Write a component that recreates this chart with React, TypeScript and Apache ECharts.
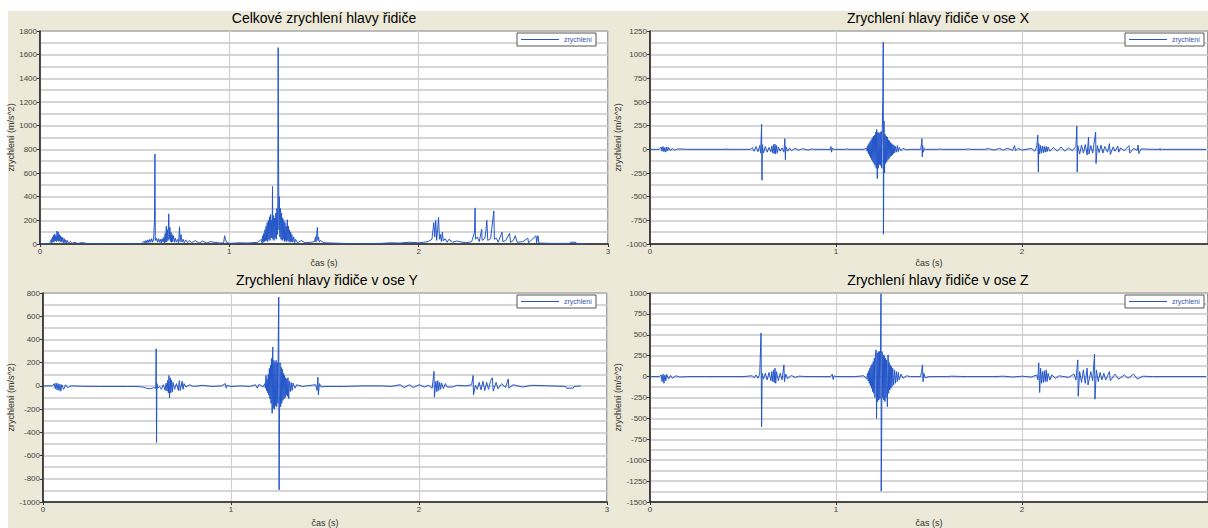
import React, { useEffect, useRef } from "react";
import * as echarts from "echarts";

// ---- Data (time in s, acceleration in m/s^2) ----
const timeTicksLeft = [0, 1, 2, 3];
const timeTicksRight = [0, 1, 2];
const timeTickLabels = ["0", "1", "2", "3"];

const titles = [
  "Celkové zrychlení hlavy řidiče",
  "Zrychlení hlavy řidiče v ose X",
  "Zrychlení hlavy řidiče v ose Y",
  "Zrychlení hlavy řidiče v ose Z",
];
const seriesName = "zrychlení";
const yAxisName = "zrychlení (m/s^2)";
const xAxisName = "čas (s)";

const yMins = [0, -1000, -1000, -1500];
const yMaxs = [1800, 1250, 800, 1000];
const yIntervals = [200, 250, 200, 250];

const accTotal: [number, number][] = [
  [0, 2], [0.05, 3], [0.06, 40], [0.063, 10], [0.066, 60], [0.069, 15], [0.072, 75], [0.075, 20],
  [0.078, 85], [0.081, 25], [0.084, 70], [0.087, 20], [0.09, 110], [0.093, 30], [0.096, 100], [0.099, 20],
  [0.102, 80], [0.105, 25], [0.108, 70], [0.111, 15], [0.114, 60], [0.117, 20], [0.12, 55], [0.124, 10],
  [0.128, 45], [0.132, 10], [0.136, 35], [0.14, 8], [0.145, 30], [0.15, 8], [0.16, 20], [0.17, 5],
  [0.18, 15], [0.2, 5], [0.22, 12], [0.25, 4], [0.3, 3], [0.4, 4], [0.5, 3], [0.54, 5],
  [0.55, 25], [0.555, 8], [0.56, 30], [0.565, 10], [0.57, 35], [0.575, 12], [0.58, 40], [0.585, 15],
  [0.59, 45], [0.595, 15], [0.6, 40], [0.605, 210], [0.607, 760], [0.609, 30], [0.615, 50], [0.62, 15],
  [0.625, 45], [0.63, 15], [0.635, 40], [0.64, 10], [0.645, 45], [0.65, 15], [0.655, 60], [0.658, 10],
  [0.661, 90], [0.664, 15], [0.667, 150], [0.67, 20], [0.673, 120], [0.676, 30], [0.68, 255], [0.683, 40],
  [0.686, 140], [0.689, 20], [0.692, 100], [0.695, 15], [0.698, 80], [0.701, 20], [0.705, 70], [0.71, 15],
  [0.715, 50], [0.72, 15], [0.727, 40], [0.732, 10], [0.737, 145], [0.74, 20], [0.745, 80], [0.75, 15],
  [0.756, 40], [0.762, 10], [0.77, 35], [0.78, 10], [0.79, 30], [0.8, 10], [0.82, 28], [0.84, 8],
  [0.86, 25], [0.88, 8], [0.9, 20], [0.95, 8], [0.97, 10], [0.975, 70], [0.98, 40], [0.985, 15],
  [1.0, 5], [1.05, 10], [1.1, 8], [1.15, 15], [1.17, 40], [1.173, 8], [1.176, 70], [1.179, 15],
  [1.182, 90], [1.185, 20], [1.188, 120], [1.191, 25], [1.194, 150], [1.197, 30], [1.2, 180], [1.203, 20],
  [1.206, 200], [1.209, 40], [1.212, 230], [1.215, 30], [1.218, 250], [1.221, 50], [1.224, 200], [1.226, 60],
  [1.228, 486], [1.23, 40], [1.233, 240], [1.236, 30], [1.239, 220], [1.242, 50], [1.245, 260], [1.248, 40],
  [1.251, 300], [1.254, 80], [1.256, 350], [1.258, 1660], [1.26, 710], [1.262, 120], [1.264, 400], [1.267, 60],
  [1.27, 300], [1.273, 40], [1.276, 260], [1.279, 30], [1.282, 220], [1.285, 40], [1.288, 200], [1.291, 20],
  [1.294, 180], [1.297, 30], [1.3, 150], [1.303, 20], [1.306, 205], [1.309, 30], [1.312, 150], [1.315, 20],
  [1.318, 120], [1.321, 15], [1.324, 100], [1.327, 20], [1.33, 80], [1.335, 15], [1.34, 60], [1.345, 10],
  [1.35, 40], [1.36, 10], [1.38, 30], [1.4, 10], [1.43, 15], [1.45, 20], [1.455, 60], [1.458, 15],
  [1.462, 90], [1.465, 140], [1.468, 30], [1.471, 60], [1.475, 15], [1.48, 30], [1.5, 10], [1.55, 8],
  [1.6, 5], [1.7, 3], [1.8, 5], [1.85, 10], [1.9, 8], [1.95, 15], [2.0, 10], [2.05, 20],
  [2.07, 40], [2.08, 180], [2.085, 60], [2.09, 200], [2.095, 30], [2.1, 120], [2.105, 225], [2.11, 40],
  [2.115, 80], [2.12, 20], [2.125, 100], [2.13, 25], [2.14, 45], [2.15, 15], [2.16, 40], [2.18, 15],
  [2.2, 25], [2.25, 10], [2.28, 20], [2.295, 100], [2.298, 305], [2.3, 40], [2.31, 60], [2.32, 20],
  [2.333, 125], [2.335, 30], [2.35, 50], [2.355, 110], [2.36, 200], [2.365, 30], [2.38, 45], [2.397, 280],
  [2.4, 40], [2.41, 50], [2.42, 15], [2.44, 100], [2.445, 20], [2.46, 30], [2.48, 90], [2.485, 15],
  [2.5, 30], [2.51, 70], [2.52, 15], [2.55, 20], [2.577, 50], [2.58, 10], [2.62, 70], [2.623, 10],
  [2.63, 70], [2.635, 8], [2.7, 5], [2.8, 5], [2.801, 15], [2.83, 15], [2.831, 5], [2.88, 3],
];

const accX: [number, number][] = [
  [0, 0], [0.05, 0], [0.06, 25], [0.065, -20], [0.07, 30], [0.075, -25], [0.08, 20], [0.085, -30],
  [0.09, 25], [0.095, -15], [0.1, 20], [0.11, -15], [0.12, 10], [0.13, -10], [0.15, 5], [0.2, 0],
  [0.41, 0], [0.412, 8], [0.414, 0], [0.54, 0], [0.55, 20], [0.56, -20], [0.57, 30], [0.58, -25],
  [0.59, 40], [0.595, -40], [0.6, 264], [0.602, -327], [0.604, 50], [0.61, -40], [0.62, 30], [0.63, -30],
  [0.64, 20], [0.65, -25], [0.655, 35], [0.66, -40], [0.664, 50], [0.668, -45], [0.672, 55], [0.676, -50],
  [0.68, 40], [0.685, -35], [0.69, 25], [0.7, -20], [0.71, 15], [0.72, -30], [0.725, 113], [0.728, -110],
  [0.73, 30], [0.74, -20], [0.75, 15], [0.76, -15], [0.78, 10], [0.8, -10], [0.82, 8], [0.85, -8],
  [0.87, 5], [0.88, 0], [0.97, 0], [0.973, 30], [0.976, -30], [0.98, 10], [0.99, 0], [1.05, 0],
  [1.06, 5], [1.07, 0], [1.15, 0], [1.165, 15], [1.168, -20], [1.171, 40], [1.174, -45], [1.177, 60],
  [1.18, -70], [1.183, 80], [1.186, -90], [1.189, 100], [1.192, -110], [1.195, 120], [1.198, -130], [1.201, 140],
  [1.204, -150], [1.207, 150], [1.21, -170], [1.213, 180], [1.216, -200], [1.219, 210], [1.222, -310], [1.225, 180],
  [1.228, -200], [1.231, 170], [1.234, -160], [1.237, 180], [1.24, -170], [1.243, 190], [1.246, -200], [1.249, 220],
  [1.252, 560], [1.254, 1133], [1.255, -897], [1.256, -660], [1.258, 300], [1.261, -250], [1.264, 160], [1.267, -150],
  [1.27, 140], [1.273, -130], [1.276, 130], [1.279, -110], [1.282, 100], [1.285, -100], [1.288, 90], [1.291, -80],
  [1.294, 70], [1.297, -70], [1.3, 60], [1.303, -60], [1.306, 50], [1.309, -45], [1.312, 40], [1.316, -35],
  [1.32, 30], [1.325, -30], [1.33, 40], [1.335, -25], [1.34, 20], [1.35, -15], [1.36, 10], [1.38, -5],
  [1.4, 0], [1.455, 0], [1.46, 60], [1.462, 113], [1.464, -80], [1.466, 40], [1.47, -30], [1.475, 10],
  [1.48, 0], [1.55, 0], [1.56, 5], [1.57, 0], [1.7, 0], [1.71, 5], [1.72, 0], [1.8, 0],
  [1.82, 8], [1.85, -8], [1.88, 10], [1.9, -10], [1.92, 12], [1.95, -10], [1.96, 40], [1.965, -15],
  [1.98, 10], [2.0, -8], [2.05, 10], [2.07, -20], [2.08, 40], [2.085, 150], [2.088, -240], [2.09, 60],
  [2.095, -50], [2.1, 40], [2.105, -40], [2.11, 35], [2.115, -35], [2.12, 30], [2.125, -30], [2.13, 30],
  [2.135, -25], [2.14, 25], [2.15, -20], [2.17, 20], [2.19, -20], [2.21, 25], [2.23, -20], [2.25, 15],
  [2.27, -15], [2.29, 30], [2.295, 246], [2.297, -240], [2.3, 40], [2.31, -50], [2.32, 45], [2.33, -40],
  [2.34, 50], [2.35, -60], [2.358, 130], [2.36, -50], [2.37, 40], [2.38, -40], [2.396, 183], [2.398, -150],
  [2.405, 40], [2.415, -35], [2.425, 45], [2.435, -40], [2.445, 30], [2.46, -30], [2.47, 60], [2.475, -55],
  [2.49, 25], [2.5, -20], [2.515, 35], [2.52, -30], [2.53, 15], [2.55, -15], [2.575, 40], [2.58, -40],
  [2.6, 10], [2.62, -10], [2.624, 45], [2.628, -45], [2.64, 5], [2.7, 0], [2.74, 0], [2.742, 10],
  [2.744, -8], [2.75, 0], [2.99, 0],
];

const accY: [number, number][] = [
  [0, 0], [0.05, 0], [0.06, 20], [0.065, -25], [0.07, 25], [0.075, -35], [0.08, 20], [0.085, -40],
  [0.09, 15], [0.095, -45], [0.1, 10], [0.11, -30], [0.12, 10], [0.13, -15], [0.15, 0], [0.2, -3],
  [0.3, -5], [0.45, -5], [0.5, -5], [0.53, -10], [0.55, -20], [0.57, -25], [0.59, -15], [0.6, -20],
  [0.602, 320], [0.604, -487], [0.606, 20], [0.61, -20], [0.62, -5], [0.63, -30], [0.64, 10], [0.65, -40],
  [0.655, 25], [0.66, -45], [0.664, 50], [0.667, -60], [0.67, 90], [0.673, -105], [0.677, 70], [0.68, -60],
  [0.684, 50], [0.688, -50], [0.692, 30], [0.7, -30], [0.71, 20], [0.72, -40], [0.725, 45], [0.73, -40],
  [0.74, 40], [0.745, -30], [0.75, 20], [0.76, -10], [0.78, 10], [0.8, -5], [0.85, 5], [0.9, -5],
  [0.95, 0], [0.97, 20], [0.975, -20], [0.98, 5], [1.0, -5], [1.05, 0], [1.1, -5], [1.13, 10],
  [1.14, -20], [1.15, 15], [1.17, -10], [1.18, 20], [1.183, -20], [1.186, 90], [1.189, -40], [1.192, 60],
  [1.195, -60], [1.198, 100], [1.201, -80], [1.204, 150], [1.207, -110], [1.21, 180], [1.213, -150], [1.216, 236],
  [1.219, -236], [1.222, 334], [1.225, -195], [1.228, 220], [1.231, -200], [1.234, 200], [1.237, -170], [1.24, 220],
  [1.243, -180], [1.246, 200], [1.249, -150], [1.252, 506], [1.254, 764], [1.255, -460], [1.256, -895], [1.258, -250],
  [1.261, 200], [1.264, -180], [1.267, 160], [1.27, -150], [1.273, 145], [1.276, -125], [1.279, 110], [1.282, -110],
  [1.285, 90], [1.288, -100], [1.291, 70], [1.294, -80], [1.297, 60], [1.3, -90], [1.303, 70], [1.307, -110],
  [1.31, 40], [1.315, -50], [1.32, 30], [1.325, -40], [1.33, 25], [1.34, -20], [1.35, 10], [1.38, -5],
  [1.4, 0], [1.45, 10], [1.458, -40], [1.462, 75], [1.465, -78], [1.47, 20], [1.48, -10], [1.5, -5],
  [1.6, -5], [1.7, 0], [1.8, 0], [1.85, -5], [1.9, 10], [1.92, -15], [1.95, 10], [1.97, -15],
  [2.0, 10], [2.03, -10], [2.05, 5], [2.07, -20], [2.08, 125], [2.082, -97], [2.09, 40], [2.095, -50],
  [2.1, 45], [2.105, -40], [2.11, 30], [2.115, -30], [2.12, 25], [2.13, -25], [2.14, 20], [2.15, -10],
  [2.18, -10], [2.2, 5], [2.25, 0], [2.28, 10], [2.288, 90], [2.29, -78], [2.3, 5], [2.31, -30],
  [2.32, 30], [2.33, -35], [2.34, 40], [2.35, -40], [2.36, 30], [2.37, -30], [2.38, 40], [2.39, 70],
  [2.395, -45], [2.41, 30], [2.42, -25], [2.44, 20], [2.46, -15], [2.475, 60], [2.478, -20], [2.5, 10],
  [2.55, -10], [2.6, 5], [2.7, 0], [2.78, -5], [2.785, -20], [2.82, -20], [2.825, -5], [2.86, 0],
];

const accZ: [number, number][] = [
  [0, 0], [0.05, 0], [0.06, 20], [0.065, -60], [0.07, 30], [0.075, -80], [0.08, 20], [0.085, -50],
  [0.09, 25], [0.1, -30], [0.11, 15], [0.12, -20], [0.14, 10], [0.16, -5], [0.2, 0], [0.3, 0],
  [0.5, 0], [0.55, 10], [0.56, -15], [0.57, 20], [0.58, -20], [0.59, 30], [0.597, 520], [0.6, -600],
  [0.603, 40], [0.61, -30], [0.62, 40], [0.63, -40], [0.64, 50], [0.65, -50], [0.655, 60], [0.66, -60],
  [0.664, 80], [0.668, -70], [0.672, 100], [0.676, -80], [0.68, 60], [0.69, -50], [0.7, 40], [0.71, -40],
  [0.72, 140], [0.723, -60], [0.73, 30], [0.74, -25], [0.76, 15], [0.78, -10], [0.8, 5], [0.85, 0],
  [0.97, 0], [0.98, 30], [0.985, -35], [0.99, 10], [1.0, 0], [1.1, 0], [1.15, 10], [1.165, -30],
  [1.17, 40], [1.173, -50], [1.176, 70], [1.179, -80], [1.182, 100], [1.185, -110], [1.188, 130], [1.191, -140],
  [1.194, 150], [1.197, -180], [1.2, 180], [1.203, -200], [1.206, 220], [1.209, -250], [1.212, 250], [1.215, 320],
  [1.218, -500], [1.221, 280], [1.224, -300], [1.227, 300], [1.23, -280], [1.233, 300], [1.236, -260], [1.239, 250],
  [1.242, 990], [1.243, -1370], [1.245, -920], [1.248, 300], [1.251, -250], [1.254, 260], [1.257, -280], [1.26, 250],
  [1.263, -300], [1.266, 220], [1.269, -250], [1.272, 200], [1.276, -360], [1.28, 260], [1.283, -200], [1.286, 170],
  [1.289, -160], [1.292, 140], [1.295, -140], [1.298, 120], [1.301, -120], [1.305, 100], [1.31, -100], [1.315, 80],
  [1.32, -80], [1.325, 60], [1.33, -60], [1.335, 50], [1.34, -40], [1.35, 30], [1.36, -20], [1.38, 10],
  [1.4, 0], [1.455, 0], [1.46, 60], [1.465, 140], [1.468, -60], [1.472, 40], [1.48, -15], [1.5, 0],
  [1.6, 0], [1.62, 5], [1.7, 0], [1.85, 0], [1.9, 5], [1.95, -5], [2.0, 5], [2.05, -5],
  [2.08, 20], [2.085, -40], [2.09, 165], [2.095, -190], [2.1, 100], [2.105, -80], [2.11, 60], [2.115, -70],
  [2.12, 70], [2.125, -60], [2.13, 80], [2.135, -60], [2.14, 40], [2.15, -40], [2.16, 20], [2.18, -20],
  [2.2, 10], [2.25, -10], [2.28, 30], [2.29, -40], [2.3, 200], [2.302, -235], [2.31, 60], [2.32, -70],
  [2.33, 80], [2.34, -80], [2.35, 100], [2.355, -100], [2.37, 60], [2.38, -50], [2.39, 270], [2.392, -270],
  [2.4, 80], [2.41, -60], [2.42, 50], [2.43, -40], [2.44, 40], [2.45, -40], [2.47, 60], [2.475, -50],
  [2.5, 30], [2.52, -30], [2.55, 20], [2.57, -20], [2.6, 30], [2.62, -30], [2.65, 5], [2.7, 0],
  [2.78, 0], [2.99, 0],
];

const allSeries = [accTotal, accX, accY, accZ];

// ---- Layout ----
const gridBoxes: any[] = [
  { left: 40, top: 31, width: 568, height: 213 },
  { left: 650, top: 31, right: -3, height: 213 },
  { left: 43, top: 293, width: 564, height: 212 },
  { left: 650, top: 293, right: -3, height: 212 },
];
const titlePos = [
  [324, 18],
  [938, 18],
  [327, 280],
  [938, 280],
];
const legendPos = [
  [517, 33],
  [1125, 33],
  [517, 295],
  [1125, 295],
];
const yNameGaps = [20, 26, 23, 28];

const FONT = "'Liberation Sans', Arial, sans-serif";
const LINE_COLOR = "#2456c8";

export default function App() {
  const ref = useRef<HTMLDivElement>(null);

  useEffect(() => {
    if (!ref.current) return;
    const chart = echarts.init(ref.current, undefined, { renderer: "svg" });

    const option: any = {
      animation: false,
      backgroundColor: "transparent",
      textStyle: { fontFamily: FONT },
      grid: gridBoxes.map((g) => ({
        ...g,
        show: true,
        backgroundColor: "#ffffff",
        borderColor: "#333333",
        borderWidth: 1,
        containLabel: false,
      })),
      xAxis: gridBoxes.map((_, i) => {
        const ticks = i % 2 === 0 ? timeTicksLeft : timeTicksRight;
        return {
          type: "value",
          gridIndex: i,
          min: 0,
          max: 3,
          interval: 0.5,
          name: xAxisName,
          nameLocation: "middle",
          nameGap: i < 2 ? 14 : 16,
          nameTextStyle: { fontSize: 9, color: "#333", fontFamily: FONT },
          axisLine: { show: true, onZero: false, lineStyle: { color: "#222", width: 1.5 } },
          axisTick: { show: true, length: 3, lineStyle: { color: "#333" }, customValues: ticks },
          axisLabel: {
            fontSize: 8,
            color: "#444",
            margin: 3,
            fontFamily: FONT,
            customValues: ticks,
            formatter: (v: number) => {
              const k = timeTicksLeft.indexOf(v);
              return k >= 0 ? timeTickLabels[k] : "";
            },
          },
          splitLine: { show: true, lineStyle: { color: "#cfcfcf", width: 1.2 } },
        };
      }),
      yAxis: gridBoxes.map((_, i) => ({
        type: "value",
        gridIndex: i,
        min: yMins[i],
        max: yMaxs[i],
        interval: yIntervals[i],
        name: yAxisName,
        nameLocation: "middle",
        nameGap: yNameGaps[i],
        nameRotate: 90,
        nameTextStyle: { fontSize: 9, color: "#333", fontFamily: FONT },
        axisLine: { show: true, onZero: false, lineStyle: { color: "#222", width: 1.5 } },
        axisTick: { show: true, length: 3, lineStyle: { color: "#333" } },
        axisLabel: {
          fontSize: 8,
          color: "#444",
          margin: 3,
          fontFamily: FONT,
          formatter: (v: number) => String(v),
        },
        splitLine: { show: true, lineStyle: { color: "#c9c9c9", width: 1.5 } },
        minorTick: { show: false, splitNumber: 2 },
        minorSplitLine: { show: true, lineStyle: { color: "#c9c9c9", width: 1.5 } },
      })),
      legend: legendPos.map(([x, y]) => ({
        data: [seriesName],
        left: x,
        top: y,
        orient: "horizontal",
        backgroundColor: "#ffffff",
        borderColor: "#555555",
        borderWidth: 1,
        padding: [3, 4, 3, 4],
        icon: "rect",
        itemWidth: 38,
        itemHeight: 1,
        itemGap: 2,
        textStyle: { fontSize: 7, color: "#3355aa", fontFamily: FONT },
      })),
      series: allSeries.map((d, i) => ({
        type: "line",
        name: seriesName,
        xAxisIndex: i,
        yAxisIndex: i,
        data: d,
        symbol: "none",
        showSymbol: false,
        clip: true,
        lineStyle: { color: LINE_COLOR, width: 1 },
        itemStyle: { color: LINE_COLOR },
      })),
      graphic: titles.map((t, i) => ({
        type: "text",
        x: titlePos[i][0],
        y: titlePos[i][1],
        z: 100,
        style: {
          text: t,
          fill: "#000",
          font: `14px ${FONT}`,
          textAlign: "center",
          textVerticalAlign: "middle",
        },
      })),
    };

    chart.setOption(option);
    return () => chart.dispose();
  }, []);

  return (
    <div style={{ position: "absolute", left: 0, top: 0, width: 1208, height: 528, background: "#ffffff", overflow: "hidden" }}>
      <div style={{ position: "absolute", left: 8, top: 11, right: 0, bottom: 0, background: "#ECE9D8" }} />
      <div ref={ref} style={{ position: "absolute", left: 0, top: 0, width: 1208, height: 528 }} />
    </div>
  );
}
